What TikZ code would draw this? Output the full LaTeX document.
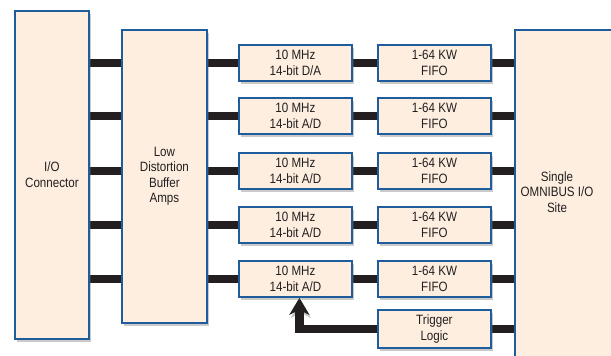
\documentclass[tikz,border=0pt]{standalone}
\usepackage{fontspec}
\setmainfont{Liberation Sans}[FakeStretch=0.86]
\usetikzlibrary{arrows.meta,shadows,backgrounds,calc}
\definecolor{boxfill}{HTML}{FDEEE0}
\definecolor{boxblue}{HTML}{1F5C9C}
\definecolor{ink}{HTML}{231F20}
\begin{document}
\begin{tikzpicture}[x=1pt,y=-1pt,
  blk/.style={draw=boxblue, line width=1.8pt, fill=boxfill, text=ink, align=center,
    inner sep=0pt, anchor=north west, font=\fontsize{13.5}{15.5}\selectfont,
    drop shadow={shadow xshift=2pt, shadow yshift=-3pt, opacity=0.35, fill=black!60}},
  small/.style={blk, minimum width=113pt, minimum height=36pt},
  lbl/.style={text=ink, align=center, inner sep=0pt, font=\fontsize{13.5}{15.5}\selectfont},
  bus/.style={line width=8.5pt, draw=ink,
    preaction={draw=black!45, opacity=0.5, transform canvas={shift={(1.5pt,-3pt)}}}},
  ]
\useasboundingbox (0,0) rectangle (611,356);
\clip (0,0) rectangle (611,356);

\node[blk, minimum width=74pt, minimum height=328pt] (io) at (14,10) {I/O\\Connector};
\node[blk, minimum width=85pt, minimum height=293pt] (buf) at (121,29) {Low\\Distortion\\Buffer\\Amps};
\node[blk, minimum width=110pt, minimum height=340pt] (omni) at (514,29) {};
\node[lbl] (omnitext) at (557,192) {Single\\OMNIBUS I/O\\Site};

\node[small] (ad1) at (238,44) {10 MHz\\14-bit D/A};
\node[small] (ad2) at (238,97) {10 MHz\\14-bit A/D};
\node[small] (ad3) at (238,152) {10 MHz\\14-bit A/D};
\node[small] (ad4) at (238,206) {10 MHz\\14-bit A/D};
\node[small] (ad5) at (238,260) {10 MHz\\14-bit A/D};

\node[small] (ff1) at (377,44) {1-64 KW\\FIFO};
\node[small] (ff2) at (377,97) {1-64 KW\\FIFO};
\node[small] (ff3) at (377,152) {1-64 KW\\FIFO};
\node[small] (ff4) at (377,206) {1-64 KW\\FIFO};
\node[small] (ff5) at (377,260) {1-64 KW\\FIFO};

\node[blk, minimum width=113pt, minimum height=38pt] (trig) at (377,309) {Trigger\\Logic};

\begin{scope}[on background layer]
\foreach \i in {1,...,5}{
  \draw[bus] (io.east |- ad\i) -- (buf.west |- ad\i);
  \draw[bus] (buf.east |- ad\i) -- (ad\i.west);
  \draw[bus] (ad\i.east) -- (ff\i.west);
  \draw[bus] (ff\i.east) -- (omni.west |- ff\i);
}
\draw[bus] (trig.east) -- (omni.west |- trig);
\draw[bus, -{Stealth[length=17pt,width=20pt,inset=5pt]}] (trig.west) -| ([xshift=4pt]ad5.south);
\end{scope}
\end{tikzpicture}
\end{document}
